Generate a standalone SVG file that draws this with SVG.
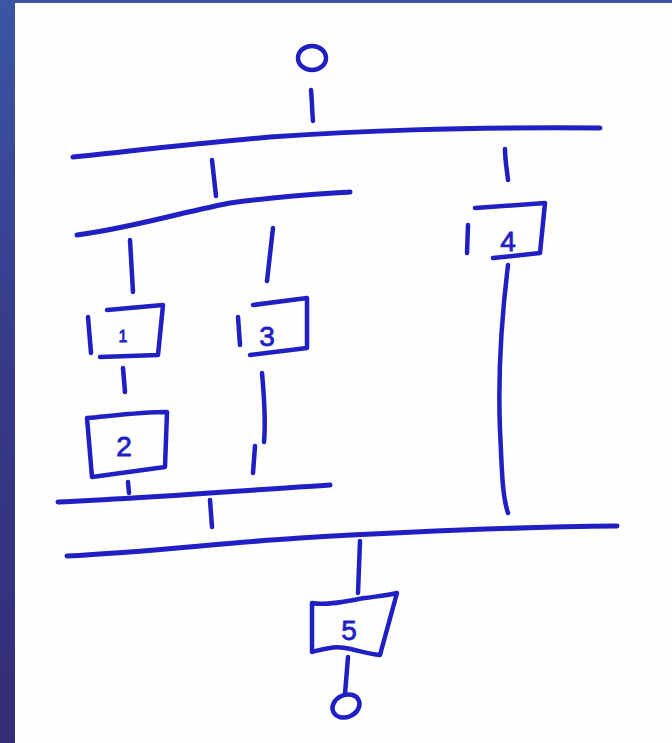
<svg xmlns="http://www.w3.org/2000/svg" width="672" height="743" viewBox="0 0 672 743">
  <defs>
    <linearGradient id="bg" x1="0" y1="0" x2="0" y2="1">
      <stop offset="0" stop-color="#3b56a2"/>
      <stop offset="0.5" stop-color="#36398a"/>
      <stop offset="1" stop-color="#352d76"/>
    </linearGradient>
    <style>
      .ink { fill: none; stroke: #1f1fc4; stroke-width: 4.5; stroke-linecap: round; stroke-linejoin: round; }
      .bar { fill: none; stroke: #1f1fc4; stroke-width: 5; stroke-linecap: round; }
      .lbl { font-family: "Liberation Sans", Arial, sans-serif; fill: #1f1fc4; stroke: #1f1fc4; stroke-width: 0.8; text-anchor: middle; }
    </style>
  </defs>
  <rect x="0" y="0" width="672" height="743" fill="url(#bg)"/>
  <rect x="15" y="3" width="657" height="740" fill="#fefefd"/>

  <g id="start">
    <ellipse class="ink" cx="312" cy="58" rx="14" ry="12"/>
  </g>

  <g id="fork1">
    <path class="bar" d="M73,157 C 140,150 200,143 270,137 C 360,131 450,127 600,128"/>
  </g>
  <g id="fork2">
    <path class="bar" d="M77,235 C 130,228 170,215 230,203 C 280,196 320,194 350,192"/>
  </g>
  <g id="join1">
    <path class="bar" d="M58,502 C 150,498 250,490 330,485"/>
  </g>
  <g id="join2">
    <path class="bar" d="M67,556 C 150,552 220,543 300,538 C 420,531 520,527 617,526"/>
  </g>

  <g id="node1">
    <path class="ink" d="M107,310 L163,305 L158,355 L100,357"/>
    <path class="ink" d="M88,317 L91,353"/>
    <text class="lbl" x="123" y="342" font-size="16">1</text>
  </g>
  <g id="node2">
    <path class="ink" d="M87,418 C 110,416 140,412 167,412 L165,467 L92,477 Z"/>
    <text class="lbl" x="124" y="456" font-size="28">2</text>
  </g>
  <g id="node3">
    <path class="ink" d="M253,305 L307,298 L307,348 L250,355"/>
    <path class="ink" d="M238,317 L240,345"/>
    <text class="lbl" x="267" y="346" font-size="28">3</text>
  </g>
  <g id="node4">
    <path class="ink" d="M475,208 L545,203 L540,253 L493,258"/>
    <path class="ink" d="M468,225 L467,253"/>
    <text class="lbl" x="508" y="251" font-size="28">4</text>
  </g>
  <g id="node5">
    <path class="ink" d="M312,603 C 330,606 350,600 365,598 C 380,596 390,595 397,593 L380,655 C 360,653 345,645 330,648 C 322,649 316,651 312,652 Z"/>
    <text class="lbl" x="349" y="640" font-size="28">5</text>
  </g>
  <g id="end">
    <ellipse class="ink" cx="346" cy="706" rx="14" ry="11" transform="rotate(-25 346 706)"/>
  </g>

  <g id="connectors">
    <path class="ink" d="M311,90 C 312,100 312,110 313,121"/>
    <path class="ink" d="M212,160 L216,196"/>
    <path class="ink" d="M505,149 C 505,160 507,170 508,180"/>
    <path class="ink" d="M130,240 L133,292"/>
    <path class="ink" d="M273,228 L267,281"/>
    <path class="ink" d="M123,368 L125,392"/>
    <path class="ink" d="M262,373 C 264,395 266,420 264,442"/>
    <path class="ink" d="M255,446 L253,473"/>
    <path class="ink" d="M128,482 L129,493"/>
    <path class="ink" d="M508,265 C 500,330 498,380 500,430 C 502,470 502,495 508,513"/>
    <path class="ink" d="M210,500 L212,527"/>
    <path class="ink" d="M360,541 L358,593"/>
    <path class="ink" d="M348,657 L345,694"/>
  </g>
</svg>
